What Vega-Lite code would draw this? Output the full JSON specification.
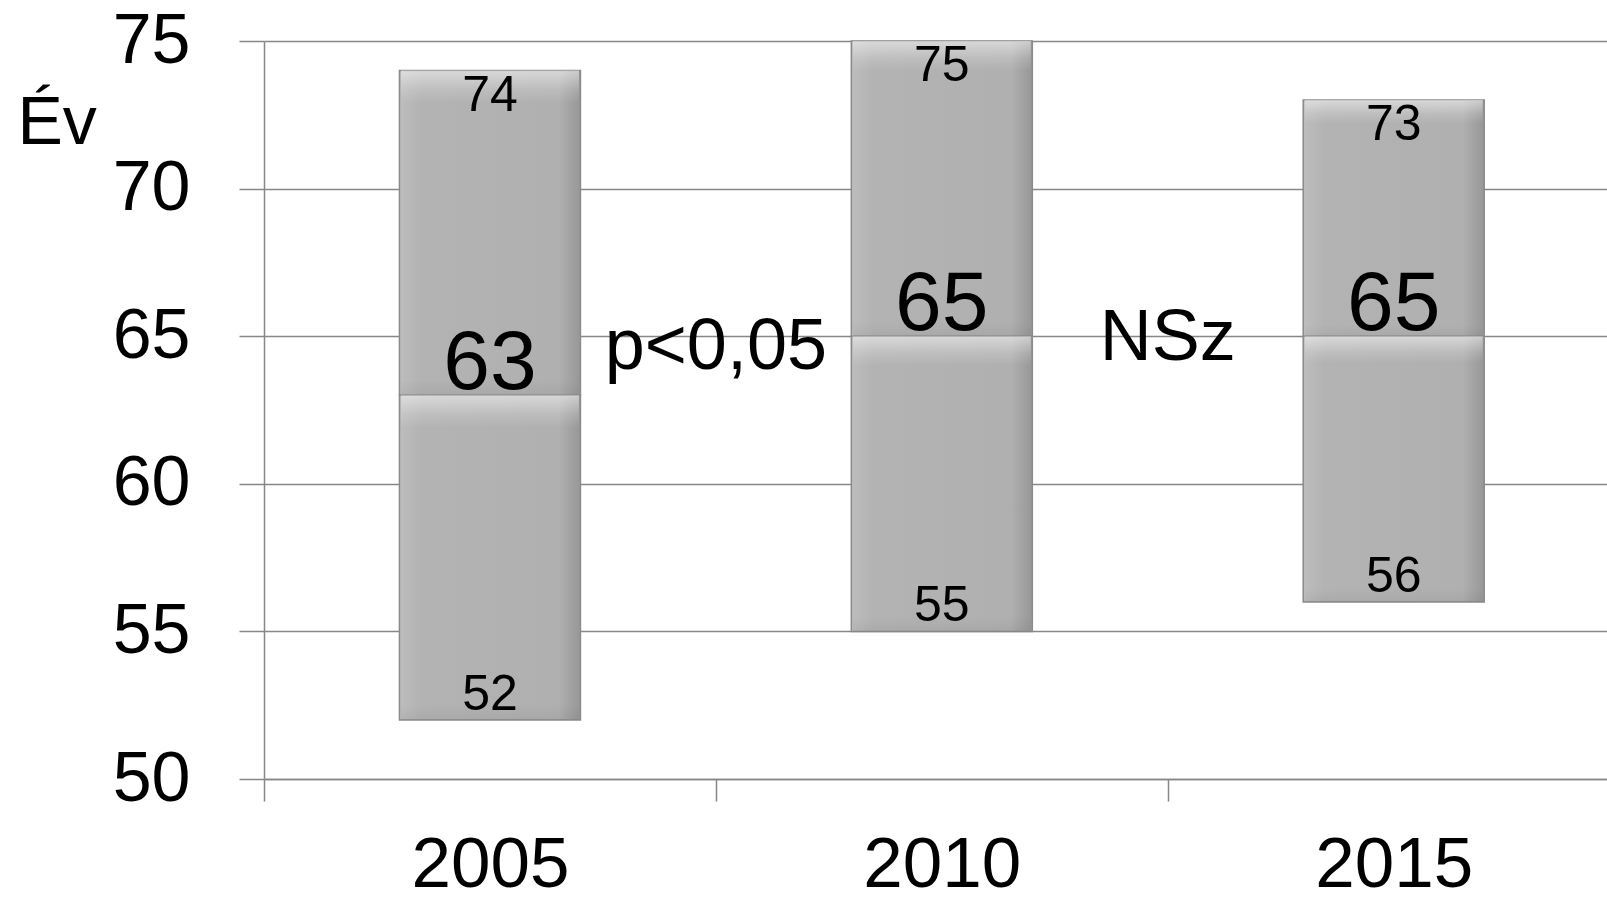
{
  "$schema": "https://vega.github.io/schema/vega-lite/v6.json",
  "autosize": "none",
  "width": 1343,
  "height": 738,
  "padding": {"left": 264, "top": 41, "right": 0, "bottom": 118},
  "background": "white",
  "config": {
    "font": "Liberation Sans",
    "view": {"stroke": null},
    "axis": {"labelFont": "Liberation Sans", "labelColor": "black", "titleFont": "Liberation Sans"}
  },
  "datasets": {
    "ranges": [
      {"year": 2005, "min": 52, "median": 63, "max": 74},
      {"year": 2010, "min": 55, "median": 65, "max": 75},
      {"year": 2015, "min": 56, "median": 65, "max": 73}
    ],
    "notes": [
      {"x": 2007.5, "y": 63.9, "label": "p<0,05"},
      {"x": 2012.5, "y": 64.2, "label": "NSz"}
    ]
  },
  "resolve": {"axis": {"x": "independent"}},
  "layer": [
    {
      "data": {"name": "ranges"},
      "mark": {
        "type": "bar",
        "width": 181,
        "stroke": "#8a8a8a",
        "strokeWidth": 1.5,
        "color": {"x1": 0, "x2": 1, "y1": 0, "y2": 0, "gradient": "linear", "stops": [
          {"offset": 0, "color": "#bdbdbd"},
          {"offset": 0.12, "color": "#b3b3b3"},
          {"offset": 0.88, "color": "#b0b0b0"},
          {"offset": 1, "color": "#979797"}
        ]}
      },
      "encoding": {
        "x": {
          "field": "year", "type": "quantitative",
          "scale": {"domain": [2002.5, 2017.36], "nice": false, "zero": false, "padding": 0},
          "axis": {
            "orient": "bottom", "values": [2005, 2010, 2015], "format": "d",
            "ticks": false, "grid": false, "domain": true, "domainColor": "#878787", "domainWidth": 1.5,
            "labelFontSize": 71, "labelPadding": 51, "title": null
          }
        },
        "y": {
          "field": "min", "type": "quantitative",
          "scale": {"domain": [50, 75], "nice": false, "zero": false},
          "axis": {
            "values": [50, 55, 60, 65, 70, 75],
            "grid": true, "gridColor": "#878787", "gridWidth": 1.5,
            "tickSize": 25, "tickColor": "#878787", "tickWidth": 1.5,
            "domain": true, "domainColor": "#878787", "domainWidth": 1.5,
            "labelFontSize": 70, "labelPadding": 49, "labelBaseline": "middle",
            "title": "Év", "titleAngle": 0, "titleAlign": "left", "titleBaseline": "alphabetic",
            "titleX": -247, "titleY": 102, "titleFontSize": 68, "titleFontWeight": "normal", "titleColor": "black"
          }
        },
        "y2": {"field": "median"}
      }
    },
    {
      "data": {"name": "ranges"},
      "mark": {
        "type": "bar",
        "width": 181,
        "stroke": "#8a8a8a",
        "strokeWidth": 1.5,
        "color": {"x1": 0, "x2": 1, "y1": 0, "y2": 0, "gradient": "linear", "stops": [
          {"offset": 0, "color": "#bdbdbd"},
          {"offset": 0.12, "color": "#b3b3b3"},
          {"offset": 0.88, "color": "#b0b0b0"},
          {"offset": 1, "color": "#979797"}
        ]}
      },
      "encoding": {
        "x": {
          "field": "year", "type": "quantitative",
          "axis": {
            "orient": "bottom", "values": [2002.5, 2007.5, 2012.5],
            "labels": false, "ticks": true, "tickSize": 22, "tickColor": "#878787", "tickWidth": 1.5,
            "grid": false, "domain": false, "title": null
          }
        },
        "y": {"field": "median", "type": "quantitative"},
        "y2": {"field": "max"}
      }
    },
    {
      "data": {"name": "ranges"},
      "mark": {
        "type": "bar", "width": 178, "strokeWidth": 0,
        "color": {"x1": 0, "x2": 0, "y1": 0, "y2": 1, "gradient": "linear", "stops": [
          {"offset": 0, "color": "rgba(255,255,255,0.5)"},
          {"offset": 0.06, "color": "rgba(255,255,255,0.15)"},
          {"offset": 0.1, "color": "rgba(255,255,255,0)"},
          {"offset": 0.95, "color": "rgba(0,0,0,0)"},
          {"offset": 1, "color": "rgba(0,0,0,0.05)"}
        ]}
      },
      "encoding": {
        "x": {"field": "year", "type": "quantitative", "axis": null},
        "y": {"field": "median", "type": "quantitative"},
        "y2": {"field": "min"}
      }
    },
    {
      "data": {"name": "ranges"},
      "mark": {
        "type": "bar", "width": 178, "strokeWidth": 0,
        "color": {"x1": 0, "x2": 0, "y1": 0, "y2": 1, "gradient": "linear", "stops": [
          {"offset": 0, "color": "rgba(255,255,255,0.5)"},
          {"offset": 0.06, "color": "rgba(255,255,255,0.15)"},
          {"offset": 0.1, "color": "rgba(255,255,255,0)"},
          {"offset": 0.95, "color": "rgba(0,0,0,0)"},
          {"offset": 1, "color": "rgba(0,0,0,0.05)"}
        ]}
      },
      "encoding": {
        "x": {"field": "year", "type": "quantitative", "axis": null},
        "y": {"field": "max", "type": "quantitative"},
        "y2": {"field": "median"}
      }
    },
    {
      "data": {"name": "ranges"},
      "mark": {"type": "text", "baseline": "top", "align": "center", "fontSize": 50, "color": "black"},
      "encoding": {
        "x": {"field": "year", "type": "quantitative", "axis": null},
        "y": {"field": "max", "type": "quantitative"},
        "text": {"field": "max", "type": "quantitative"}
      }
    },
    {
      "data": {"name": "ranges"},
      "mark": {"type": "text", "baseline": "alphabetic", "align": "center", "fontSize": 50, "dy": -10, "color": "black"},
      "encoding": {
        "x": {"field": "year", "type": "quantitative", "axis": null},
        "y": {"field": "min", "type": "quantitative"},
        "text": {"field": "min", "type": "quantitative"}
      }
    },
    {
      "data": {"name": "ranges"},
      "mark": {"type": "text", "baseline": "alphabetic", "align": "center", "fontSize": 84, "dy": -6, "color": "black"},
      "encoding": {
        "x": {"field": "year", "type": "quantitative", "axis": null},
        "y": {"field": "median", "type": "quantitative"},
        "text": {"field": "median", "type": "quantitative"}
      }
    },
    {
      "data": {"name": "notes"},
      "mark": {"type": "text", "baseline": "alphabetic", "align": "center", "fontSize": 72, "color": "black"},
      "encoding": {
        "x": {"field": "x", "type": "quantitative", "axis": null},
        "y": {"field": "y", "type": "quantitative"},
        "text": {"field": "label", "type": "nominal"}
      }
    }
  ]
}
